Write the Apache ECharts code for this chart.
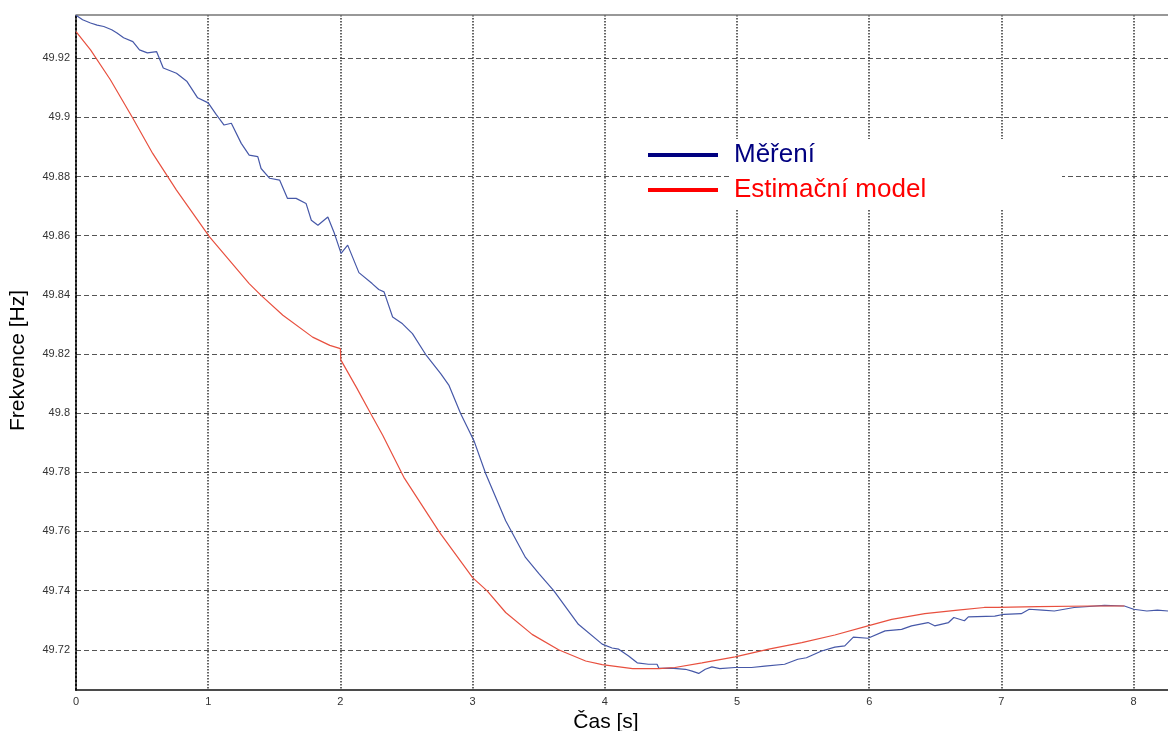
<!DOCTYPE html>
<html>
<head>
<meta charset="utf-8">
<script src="https://cdn.jsdelivr.net/npm/echarts@6/dist/echarts.min.js"></script>
<style>
html,body{margin:0;padding:0;background:#fff;}
#chart{width:1168px;height:731px;}
</style>
</head>
<body>
<div id="chart"></div>
<script>
// ---- data ----
const measTime = [0.00,0.05,0.11,0.16,0.21,0.27,0.31,0.36,0.43,0.48,0.54,0.61,0.66,0.76,0.84,0.92,1.00,1.06,1.12,1.175,1.25,1.31,1.375,1.40,1.465,1.54,1.60,1.665,1.74,1.78,1.83,1.905,1.955,2.005,2.055,2.14,2.24,2.29,2.33,2.395,2.47,2.545,2.65,2.76,2.82,2.91,3.01,3.10,3.25,3.40,3.50,3.615,3.80,3.98,4.055,4.105,4.18,4.245,4.33,4.395,4.41,4.50,4.61,4.66,4.71,4.76,4.81,4.87,4.985,5.11,5.21,5.36,5.46,5.525,5.64,5.74,5.815,5.88,5.99,6.12,6.245,6.32,6.445,6.495,6.60,6.64,6.72,6.75,6.95,7.02,7.15,7.21,7.31,7.40,7.55,7.78,7.93,8.00,8.10,8.18,8.26];
const measFreq = [49.9345,49.9330,49.9319,49.9312,49.9307,49.9296,49.9285,49.9269,49.9256,49.9228,49.9218,49.9222,49.9167,49.9149,49.9121,49.9066,49.9049,49.9010,49.8974,49.8980,49.8912,49.8872,49.8867,49.8827,49.8794,49.8788,49.8726,49.8726,49.8709,49.8652,49.8635,49.8663,49.8607,49.8540,49.8568,49.8475,49.8438,49.8418,49.8410,49.8325,49.8302,49.8269,49.8195,49.8133,49.8095,49.7998,49.7907,49.7794,49.7636,49.7512,49.7458,49.7399,49.7286,49.7219,49.7206,49.7202,49.7179,49.7156,49.7151,49.7151,49.7137,49.7138,49.7134,49.7128,49.7120,49.7134,49.7142,49.7136,49.7140,49.7140,49.7145,49.7151,49.7168,49.7173,49.7196,49.7209,49.7213,49.7243,49.7239,49.7264,49.7269,49.7281,49.7292,49.7281,49.7292,49.7309,49.7298,49.7311,49.7314,49.7320,49.7322,49.7337,49.7334,49.7331,49.7343,49.7350,49.7348,49.7337,49.7331,49.7334,49.7331];

const modelTime = [0.00,0.11,0.26,0.43,0.58,0.76,1.01,1.31,1.40,1.565,1.79,1.92,2.00,2.003,2.12,2.23,2.32,2.48,2.75,3.00,3.11,3.25,3.45,3.65,3.855,3.98,4.21,4.41,4.53,4.735,4.985,5.24,5.49,5.74,5.99,6.17,6.42,6.67,6.87,6.97,7.275,7.68,7.93];
const modelFreq = [49.9290,49.9228,49.9127,49.8997,49.8878,49.8754,49.8596,49.8438,49.8398,49.8331,49.8257,49.8229,49.8218,49.8180,49.8088,49.7998,49.7925,49.7783,49.7597,49.7444,49.7399,49.7326,49.7252,49.7200,49.7162,49.7150,49.7136,49.7136,49.7140,49.7156,49.7176,49.7202,49.7224,49.7250,49.7281,49.7303,49.7322,49.7334,49.7343,49.7343,49.7346,49.7348,49.7348];

const yTicks = [49.72,49.74,49.76,49.78,49.80,49.82,49.84,49.86,49.88,49.90,49.92];
const seriesNames = ['Měření','Estimační model'];
const xName = 'Čas [s]';
const yName = 'Frekvence [Hz]';

const pairs = (xs, ys) => xs.map((x, i) => [x, ys[i]]);

const font = "'Liberation Sans', Arial, sans-serif";
const chart = echarts.init(document.getElementById('chart'));
chart.setOption({
  animation: false,
  backgroundColor: '#ffffff',
  grid: { left: 76, right: 0, top: 15, bottom: 41, containLabel: false, outerBoundsMode: 'none' },
  xAxis: [{
    type: 'value', min: 0, max: 8.26, interval: 1,
    name: xName, nameLocation: 'middle', nameGap: 16,
    nameTextStyle: { fontFamily: font, fontSize: 21, color: '#000', padding: [0, 32, 0, 0] },
    axisLine: { show: true, onZero: false, lineStyle: { color: '#111', width: 1.5 } },
    axisTick: { show: false },
    axisLabel: { margin: 6, fontFamily: font, fontSize: 11, color: '#333', showMaxLabel: false },
    splitLine: { show: true, showMinLine: false, showMaxLine: false, lineStyle: { type: 'dotted', color: '#333', width: 1.5 } }
  }, {
    type: 'value', min: 0, max: 8.26, position: 'top',
    axisLine: { show: true, onZero: false, lineStyle: { color: '#777', width: 1.5 } },
    axisTick: { show: false }, axisLabel: { show: false }, splitLine: { show: false }
  }],
  yAxis: {
    type: 'value', min: 49.7064, max: 49.9346,
    name: yName, nameLocation: 'middle', nameGap: 47,
    nameTextStyle: { fontFamily: font, fontSize: 21, color: '#000', padding: [0, 16, 0, 0] },
    axisLine: { show: true, lineStyle: { color: '#111', width: 2, type: 'dotted' } },
    axisTick: { show: false, customValues: yTicks },
    axisLabel: { margin: 6, fontFamily: font, fontSize: 11, color: '#333', customValues: yTicks },
    splitLine: { show: true, lineStyle: { type: [5, 3], color: '#555', width: 1 } }
  },
  legend: {
    orient: 'vertical', left: 648, top: 142, padding: 0, itemWidth: 70, itemHeight: 4, itemGap: 9,
    icon: 'rect', z: 20,
    data: [
      { name: seriesNames[0], itemStyle: { color: '#000080' }, textStyle: { color: '#000080' } },
      { name: seriesNames[1], itemStyle: { color: '#ff0000' }, textStyle: { color: '#ff0000' } }
    ],
    textStyle: { fontFamily: font, fontSize: 26, padding: [0, 0, 0, 11] }
  },
  graphic: [{
    type: 'rect', z: 10, silent: true,
    shape: { x: 730, y: 139, width: 332, height: 71 },
    style: { fill: '#ffffff' }
  }],
  series: [{
    name: seriesNames[0], type: 'line', showSymbol: false, z: 3,
    data: pairs(measTime, measFreq),
    lineStyle: { color: '#4658a8', width: 1.2 }, itemStyle: { color: '#4658a8' }
  }, {
    name: seriesNames[1], type: 'line', showSymbol: false, z: 4,
    data: pairs(modelTime, modelFreq),
    lineStyle: { color: '#e8503f', width: 1.2 }, itemStyle: { color: '#e8503f' }
  }]
});
</script>
</body>
</html>
